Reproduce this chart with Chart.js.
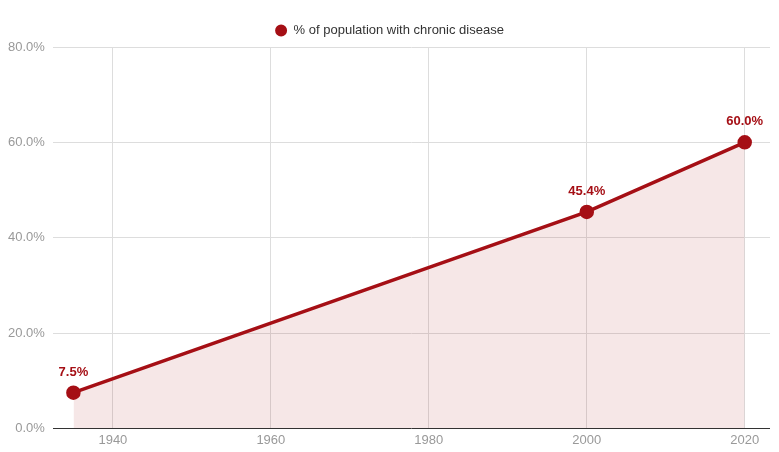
<!DOCTYPE html>
<html>
<head>
<meta charset="UTF-8">
<script src="https://cdn.jsdelivr.net/npm/chart.js"></script>
<style>
  html, body { margin: 0; padding: 0; background: #fff; }
  #wrap { width: 779px; height: 452px; }
</style>
</head>
<body>
<div id="wrap"><canvas id="c"></canvas></div>
<script>
const years = [1935, 2000, 2020];
const values = [7.5, 45.4, 60.0];
const xTicks = [1940, 1960, 1980, 2000, 2020];
const yTicks = [0, 20, 40, 60, 80];
const seriesLabel = '% of population with chronic disease';
const red = '#a50f15';
const font = 'Liberation Sans, Arial, sans-serif';

const labelPlugin = {
  id: 'pointLabels',
  afterDatasetsDraw(chart) {
    const ctx = chart.ctx;
    const meta = chart.getDatasetMeta(0);
    ctx.save();
    ctx.font = 'bold 13px ' + font;
    ctx.fillStyle = red;
    ctx.textAlign = 'center';
    ctx.textBaseline = 'bottom';
    meta.data.forEach((pt, i) => {
      ctx.fillText(values[i].toFixed(1) + '%', pt.x, pt.y - 14);
    });
    ctx.restore();
  }
};

new Chart(document.getElementById('c'), {
  type: 'line',
  data: {
    datasets: [{
      label: seriesLabel,
      data: years.map((y, i) => ({ x: y, y: values[i] })),
      borderColor: red,
      backgroundColor: red,
      borderWidth: 3.5,
      pointRadius: 5.5,
      pointHoverRadius: 5.5,
      pointBackgroundColor: red,
      fill: { target: 'origin', above: 'rgba(165,15,21,0.1)' },
      tension: 0
    }]
  },
  plugins: [labelPlugin],
  options: {
    responsive: true,
    maintainAspectRatio: false,
    animation: false,
    layout: { padding: { top: 4, right: 0, left: 0, bottom: 0 } },
    plugins: {
      legend: {
        display: true,
        labels: {
          usePointStyle: true,
          pointStyle: 'circle',
          boxWidth: 12,
          boxHeight: 6,
          color: '#333',
          font: { size: 13, family: font },
          padding: 20
        }
      },
      tooltip: { enabled: false }
    },
    scales: {
      x: {
        type: 'linear',
        min: 1932.4,
        max: 2023.2,
        afterBuildTicks: s => { s.ticks = xTicks.map(v => ({ value: v })); },
        grid: { color: '#ddd', drawTicks: false },
        border: { display: false },
        ticks: {
          color: '#999', font: { size: 13, family: font }, padding: 4,
          callback: v => String(v)
        }
      },
      y: {
        min: 0,
        max: 80,
        afterBuildTicks: s => { s.ticks = yTicks.map(v => ({ value: v })); },
        grid: {
          color: ctx => ctx.tick && ctx.tick.value === 0 ? '#333' : '#ddd',
          drawTicks: false
        },
        border: { display: false },
        ticks: {
          color: '#999',
          font: { size: 13, family: font },
          padding: 8,
          callback: v => v.toFixed(1) + '%'
        }
      }
    }
  }
});
</script>
</body>
</html>
